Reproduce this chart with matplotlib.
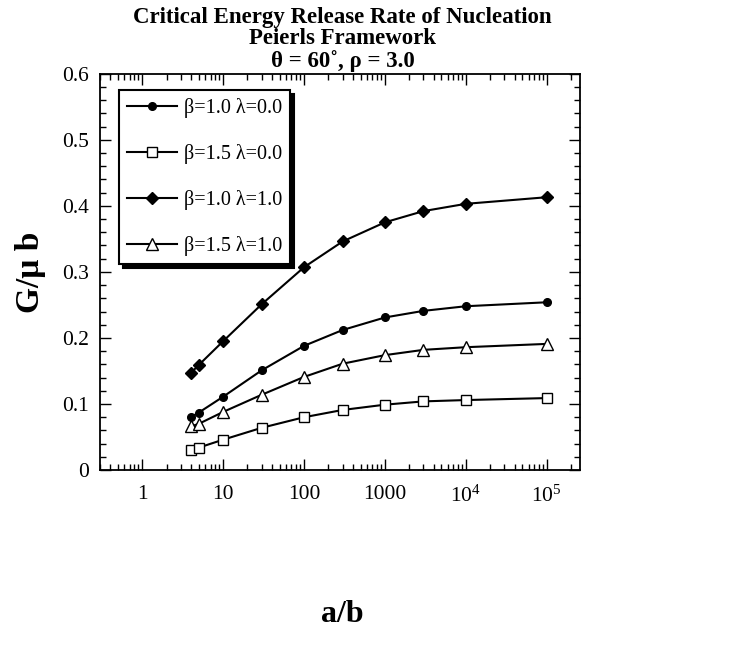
import matplotlib
matplotlib.use("Agg")
import matplotlib.pyplot as plt
from matplotlib.ticker import FixedLocator, FixedFormatter, MultipleLocator, LogLocator, NullFormatter

# crack length ratio a/b (x values of every curve)
a_over_b = [4, 5, 10, 30, 100, 300, 1000, 3000, 1e4, 1e5]

# G/(mu b), one list per curve
g_beta10_lam00 = [0.080, 0.087, 0.111, 0.151, 0.188, 0.212, 0.231, 0.241, 0.248, 0.254]
g_beta15_lam00 = [0.031, 0.034, 0.046, 0.064, 0.080, 0.091, 0.099, 0.104, 0.106, 0.109]
g_beta10_lam10 = [0.147, 0.159, 0.195, 0.251, 0.307, 0.346, 0.375, 0.392, 0.403, 0.413]
g_beta15_lam10 = [0.066, 0.070, 0.088, 0.114, 0.141, 0.161, 0.174, 0.182, 0.186, 0.191]

labels = ["\u03b2=1.0 \u03bb=0.0", "\u03b2=1.5 \u03bb=0.0",
          "\u03b2=1.0 \u03bb=1.0", "\u03b2=1.5 \u03bb=1.0"]

xtick_vals = [1, 10, 100, 1000, 1e4, 1e5]
xtick_text = ["1", "10", "100", "1000", "$10^4$", "$10^5$"]
ytick_vals = [0, 0.1, 0.2, 0.3, 0.4, 0.5, 0.6]
ytick_text = ["0", "0.1", "0.2", "0.3", "0.4", "0.5", "0.6"]

plt.rcParams['font.family'] = ['Liberation Serif', 'DejaVu Serif']
plt.rcParams['mathtext.fontset'] = 'custom'
plt.rcParams['mathtext.rm'] = 'Liberation Serif'
plt.rcParams['mathtext.it'] = 'Liberation Serif:italic'


# draw the four curves with the marker styles of the paper figure
def plotcurves(ax):
    ax.plot(a_over_b, g_beta10_lam00, '-o', color='k', lw=1.5, ms=5.5,
            mfc='k', label=labels[0])
    ax.plot(a_over_b, g_beta15_lam00, '-s', color='k', lw=1.5, ms=6.5,
            mfc='white', mew=1.0, label=labels[1])
    ax.plot(a_over_b, g_beta10_lam10, '-D', color='k', lw=1.5, ms=6,
            mfc='k', label=labels[2])
    ax.plot(a_over_b, g_beta15_lam10, '-^', color='k', lw=1.5, ms=9,
            mfc='white', mew=1.0, label=labels[3])


# axis limits, ticks on all four sides pointing inwards
def setaxes(ax):
    ax.set_xscale('log')
    ax.set_xlim(0.3, 2.6e5)
    ax.set_ylim(0, 0.6)
    ax.xaxis.set_major_locator(FixedLocator(xtick_vals))
    ax.xaxis.set_major_formatter(FixedFormatter(xtick_text))
    ax.xaxis.set_minor_locator(LogLocator(base=10, subs=range(2, 10), numticks=20))
    ax.xaxis.set_minor_formatter(NullFormatter())
    ax.yaxis.set_major_locator(FixedLocator(ytick_vals))
    ax.yaxis.set_major_formatter(FixedFormatter(ytick_text))
    ax.yaxis.set_minor_locator(MultipleLocator(0.02))
    ax.tick_params(which='both', direction='in', top=True, right=True,
                   labelsize=15.5, width=1.0)
    ax.tick_params(which='major', length=8)
    ax.tick_params(which='minor', length=4)
    ax.tick_params(axis='x', which='major', pad=11)
    ax.tick_params(axis='y', which='major', pad=8)
    for s in ax.spines.values():
        s.set_linewidth(1.3)


def main():
    fig = plt.figure(figsize=(7.29, 6.52), dpi=100)
    ax = fig.add_axes([0.137, 0.279, 0.659, 0.608])

    plotcurves(ax)
    setaxes(ax)

    # legend box sits between x~0.5 and x~50, y~0.31 to 0.58 as in the paper
    leg = ax.legend(loc='upper left', bbox_to_anchor=(0.04, 0.96), borderaxespad=0,
                    fontsize=14.5, numpoints=1, handlelength=2.5, handletextpad=0.3,
                    labelspacing=1.3, borderpad=0.4, fancybox=False, edgecolor='k',
                    shadow={'color': 'k', 'alpha': 1.0, 'ox': 3, 'oy': -3})
    leg.get_frame().set_linewidth(1.5)
    leg.get_frame().set_alpha(1.0)

    fig.text(0.47, 0.99, "Critical Energy Release Rate of Nucleation\n"
             "Peierls Framework\n\u03b8 = 60\u02da, \u03c1 = 3.0",
             ha='center', va='top', fontsize=16.5, fontweight='bold', linespacing=1.05)

    fig.text(0.47, 0.057, "a/b", ha='center', va='center', fontsize=23, fontweight='bold')
    fig.text(0.042, 0.583, "G/\u03bc b", ha='center', va='center', rotation=90,
             fontsize=24, fontweight='bold')

    fig.savefig("out.png", dpi=100)


if __name__ == '__main__':
    main()
